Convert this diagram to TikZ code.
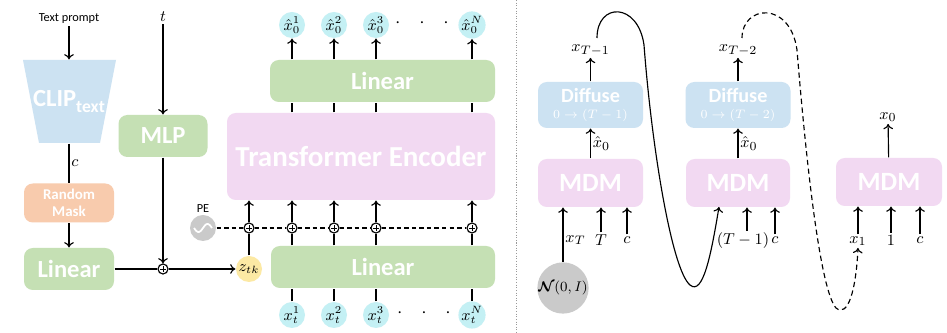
\documentclass[tikz,border=0pt]{standalone}
\usepackage{fontspec}
\usepackage{amsmath}
\newfontfamily\carl{Carlito}
\usetikzlibrary{calc,arrows.meta}
\definecolor{gfill}{HTML}{C5E0B4}
\definecolor{pfill}{HTML}{F2D9F2}
\definecolor{bfill}{HTML}{CCE2F2}
\definecolor{ofill}{HTML}{F8CBAD}
\definecolor{cfill}{HTML}{C4F0F4}
\definecolor{yfill}{HTML}{FCE9A4}
\definecolor{gyfill}{HTML}{CACACA}
\tikzset{
  box/.style={rounded corners=5pt, inner sep=0pt, text=white, font=\carl\bfseries\fontsize{14}{14}\selectfont},
  sz/.style 2 args={minimum width=#1*0.02cm, minimum height=#2*0.02cm},
  tok/.style={circle, inner sep=0pt, minimum size=26*0.02cm, font=\fontsize{9}{9}\selectfont},
  plus/.style={circle, draw, fill=white, inner sep=0pt, minimum size=10*0.02cm,
    path picture={\draw[line width=0.4pt] ([xshift=-1.6pt]path picture bounding box.center) -- ([xshift=1.6pt]path picture bounding box.center)
      ([yshift=-1.6pt]path picture bounding box.center) -- ([yshift=1.6pt]path picture bounding box.center);}},
  lbl/.style={inner sep=1pt, font=\fontsize{9.5}{10}\selectfont},
  small/.style={inner sep=1pt, font=\carl\fontsize{7}{7}\selectfont},
  dsh/.style={dash pattern=on 2.5pt off 1.8pt, line width=0.8pt},
}
\begin{document}
\begin{tikzpicture}[x=0.02cm, y=-0.02cm, >={To[length=3pt,width=5.5pt]}, line width=0.65pt]
\useasboundingbox[fill=white] (0,0) rectangle (947,333);

% ---------- text branch ----------
\node[small] (tp) at (69,19) {Text prompt};
\fill[bfill] (23,60) -- (116,60) -- (100,143) -- (39,143) -- cycle;
\node[box, sz={93}{83}] (clip) at (69,101.5) {CLIP\raisebox{-0.45ex}{\fontsize{10}{10}\selectfont text}};
\node[box, fill=ofill, sz={90}{39}, align=center, font=\carl\bfseries\fontsize{8.5}{10}\selectfont] (rm) at (69,203) {Random\\Mask};
\node[box, fill=gfill, sz={90}{42}] (lin1) at (69,269) {Linear};
\draw[->] (tp) -- (clip);
\draw (clip) -- node[right, lbl] {$c$} (rm);
\draw[->] (rm) -- (lin1);

% ---------- timestep branch ----------
\node[lbl] (t) at (163,17) {$t$};
\node[box, fill=gfill, sz={89}{42}] (mlp) at (163,136) {MLP};
\node[plus] (p0) at (163,269) {};
\node[tok, fill=yfill] (ztk) at (249,269) {$z_{tk}$};
\draw[->] (t) -- (mlp);
\draw[->] (mlp) -- (p0);
\draw (lin1) -- (p0);
\draw[->] (p0) -- (ztk);

% ---------- transformer ----------
\node[box, fill=pfill, sz={268}{87}, font=\carl\bfseries\fontsize{16.5}{16.5}\selectfont] (te) at (361,156.5) {Transformer Encoder};
\node[box, fill=gfill, sz={225}{42}] (lin3) at (382.5,81) {Linear};
\node[box, fill=gfill, sz={224}{42}] (lin2) at (383,267) {Linear};

% positional encoding
\node[circle, fill=gyfill, inner sep=0pt, minimum size=26*0.02cm] (pe) at (203,228) {};
\draw[white, line width=1pt, shift={(pe)}] plot[domain=-1:1, samples=30] ({\x*9},{-4*sin(\x*180)});
\node[small] (pel) at (203,209) {PE};

\node[plus] (pl0) at (249,228) {};
\node[plus] (pl1) at (292,228) {};
\node[plus] (pl2) at (334,228) {};
\node[plus] (pl3) at (376,228) {};
\node[plus] (pl4) at (472,228) {};
\draw[dsh] (pe) -- (pl0);
\draw[dsh] (pl0) -- (pl1);
\draw[dsh] (pl1) -- (pl2);
\draw[dsh] (pl2) -- (pl3);
\draw[dsh] (pl3) -- (pl4);
\draw (ztk) -- (pl0);
\foreach \p in {pl0,pl1,pl2,pl3,pl4} \draw[->] (\p) -- (\p |- te.south);

% input tokens
\node[tok, fill=cfill] (xi1) at (292,315) {$x_t^1$};
\node[tok, fill=cfill] (xi2) at (334,315) {$x_t^2$};
\node[tok, fill=cfill] (xi3) at (376,315) {$x_t^3$};
\node[tok, fill=cfill] (xi4) at (472,315) {$x_t^N$};
\node[lbl, font=\bfseries\fontsize{11}{11}\selectfont] (din) at (424,313) {$\cdot\ \ \cdot\ \ \cdot$};
\foreach \i in {1,2,3,4} {
  \draw (xi\i) -- (xi\i |- lin2.south);
  \draw (xi\i |- lin2.north) -- (pl\i);
}

% output tokens
\node[tok, fill=cfill] (o1) at (292,25) {$\hat{x}_0^1$};
\node[tok, fill=cfill] (o2) at (334,25) {$\hat{x}_0^2$};
\node[tok, fill=cfill] (o3) at (376,25) {$\hat{x}_0^3$};
\node[tok, fill=cfill] (o4) at (472,25) {$\hat{x}_0^N$};
\node[lbl, font=\bfseries\fontsize{11}{11}\selectfont] (dout) at (422,23) {$\cdot\ \ \cdot\ \ \cdot$};
\foreach \i in {1,2,3,4} {
  \draw (o\i |- te.north) -- (o\i |- lin3.south);
  \draw[->] (o\i |- lin3.north) -- (o\i);
}

% separator
\draw[gray!80, line width=0.5pt, dash pattern=on 0.6pt off 0.9pt] (516,0) -- (516,333);

% ---------- sampling chain ----------
\tikzset{dbox/.style={box, fill=bfill, sz={105}{46}, align=center, font=\carl\bfseries\fontsize{11.5}{8}\selectfont}}
\node[dbox] (d1) at (590.5,105) {Diffuse\\[1pt]{\normalfont\fontsize{7}{7}\selectfont$0\rightarrow(T-1)$}};
\node[box, fill=pfill, sz={105}{48}, font=\carl\bfseries\fontsize{15}{15}\selectfont] (m1) at (590.5,183) {MDM};
\node[lbl] (xT1) at (590.5,50) {$x_{T-1}$};
\draw[->] (m1) -- node[right, lbl] {$\hat{x}_0$} (d1);
\draw[->] (d1) -- (xT1);
\node[circle, fill=gyfill, inner sep=0pt, minimum size=45*0.02cm, font=\fontsize{8.5}{8.5}\selectfont] (nc) at (563,288) {$\boldsymbol{\mathcal{N}}(0,I)$};
\draw[->] (nc) -- node[right, lbl, pos=0.4] {$x_T$} (nc |- m1.south);
\node[lbl] (lT) at (601,240) {$T$};
\node[lbl] (lc1) at (627,240) {$c$};
\draw[->] (lT) -- (lT |- m1.south);
\draw[->] (lc1) -- (lc1 |- m1.south);

\node[dbox] (d2) at (738,105) {Diffuse\\[1pt]{\normalfont\fontsize{7}{7}\selectfont$0\rightarrow(T-2)$}};
\node[box, fill=pfill, sz={104}{48}, font=\carl\bfseries\fontsize{15}{15}\selectfont] (m2) at (738,183) {MDM};
\node[lbl] (xT2) at (738,50) {$x_{T-2}$};
\draw[->] (m2) -- node[right, lbl] {$\hat{x}_0$} (d2);
\draw[->] (d2) -- (xT2);
\node[lbl] (lT1) at (743,241) {$(T-1)$};
\node[lbl] (lc2) at (775,240) {$c$};
\coordinate (a2) at (747,240);
\draw[->] ($(a2)+(0,-9)$) -- (a2 |- m2.south);
\draw[->] (lc2) -- (lc2 |- m2.south);

\node[box, fill=pfill, sz={106}{48}, font=\carl\bfseries\fontsize{15}{15}\selectfont] (m3) at (889,182) {MDM};
\node[lbl] (x0) at (888,117) {$x_0$};
\draw[->] (m3) -- (x0);
\node[lbl] (x1) at (858,241) {$x_1$};
\node[lbl] (l1) at (891,240) {$1$};
\node[lbl] (lc3) at (920,240) {$c$};
\draw[->] (x1) -- (x1 |- m3.south);
\draw[->] (l1) -- (l1 |- m3.south);
\draw[->] (lc3) -- (lc3 |- m3.south);

% loops between steps
\coordinate (s1) at (597,38);
\coordinate (e1) at (719,207);
\draw[->] (s1) .. controls (597,2) and (638,2) .. (644,45)
  .. controls (652,150) and (672,270) .. (690,285)
  .. controls (703,296) and (711,255) .. (e1);
\coordinate (s2) at (742,38);
\draw[->, dash pattern=on 3pt off 2pt] (s2) .. controls (742,5) and (790,0) .. (797,50)
  .. controls (806,160) and (820,290) .. (836,308)
  .. controls (848,318) and (856,290) .. (x1.south);
\end{tikzpicture}
\end{document}
